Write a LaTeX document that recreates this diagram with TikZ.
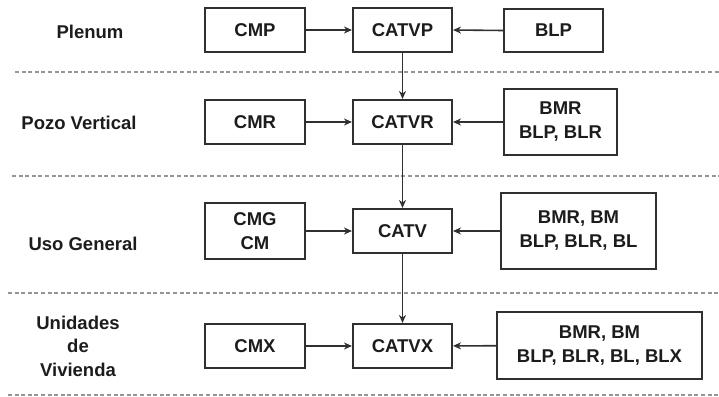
\documentclass[tikz,border=0pt]{standalone}
\usepackage{fontspec}
\setmainfont{Liberation Sans}
\usetikzlibrary{arrows.meta}
\definecolor{boxline}{HTML}{303030}
\definecolor{sepline}{HTML}{959595}
\definecolor{txt}{HTML}{1C1C1C}
\begin{document}
\begin{tikzpicture}[x=1pt,y=-1pt,
  box/.style={draw=boxline,line width=2pt,inner sep=0pt,align=center,text=txt,
    font=\bfseries\fontsize{18.5}{24}\selectfont},
  lbl/.style={inner sep=0pt,align=center,text=txt,font=\bfseries\fontsize{18.5}{23.5}\selectfont},
  sep/.style={draw=sepline,line width=1.9pt,dash pattern=on 4pt off 2.6pt},
  conn/.style={draw=boxline,line width=1.6pt,-{Stealth[length=8pt,width=7pt,inset=2.5pt]}}]
\useasboundingbox (0,0) rectangle (719,396);
% separators
\coordinate (s1a) at (15,72);  \coordinate (s1b) at (719,72);
\coordinate (s2a) at (12,176); \coordinate (s2b) at (719,176);
\coordinate (s3a) at (8,293);  \coordinate (s3b) at (719,293);
\coordinate (s4a) at (8,395);  \coordinate (s4b) at (719,395);
\draw[sep] (s1a) -- (s1b);
\draw[sep] (s2a) -- (s2b);
\draw[sep] (s3a) -- (s3b);
\draw[sep] (s4a) -- (s4b);
% labels
\node[lbl] (l1) at (90,32) {Plenum};
\node[lbl] (l2) at (79,123) {Pozo Vertical};
\node[lbl] (l3) at (83,244) {Uso General};
\node[lbl] (l4) at (78,346) {Unidades\\de\\Vivienda};
% row 1
\node[box,minimum width=100pt,minimum height=44pt] (cmp) at (255,30) {CMP};
\node[box,minimum width=99pt,minimum height=44pt] (catvp) at (402.5,30) {CATVP};
\node[box,minimum width=99pt,minimum height=43pt] (blp) at (553.5,30.5) {BLP};
% row 2
\node[box,minimum width=100pt,minimum height=44pt] (cmr) at (255,122) {CMR};
\node[box,minimum width=99pt,minimum height=44pt] (catvr) at (402.5,122) {CATVR};
\node[box,minimum width=113pt,minimum height=66pt] (bmr) at (560.5,122) {BMR\\BLP, BLR};
% row 3
\node[box,minimum width=100pt,minimum height=56pt] (cmg) at (255,231) {CMG\\CM};
\node[box,minimum width=99pt,minimum height=44pt] (catv) at (402.5,231) {CATV};
\node[box,minimum width=155pt,minimum height=76pt] (bl) at (578.5,231) {BMR, BM\\BLP, BLR, BL};
% row 4
\node[box,minimum width=100pt,minimum height=44pt] (cmx) at (255,346) {CMX};
\node[box,minimum width=99pt,minimum height=44pt] (catvx) at (402.5,346) {CATVX};
\node[box,minimum width=205pt,minimum height=67pt] (blx) at (599.5,345.5) {BMR, BM\\BLP, BLR, BL, BLX};
% connectors
\draw[conn] (cmp) -- (catvp);
\draw[conn] (blp.west) -- (catvp.east);
\draw[conn] (catvp) -- (catvr);
\draw[conn] (cmr) -- (catvr);
\draw[conn] (bmr) -- (catvr);
\draw[conn] (catvr) -- (catv);
\draw[conn] (cmg) -- (catv);
\draw[conn] (bl) -- (catv);
\draw[conn] (catv) -- (catvx);
\draw[conn] (cmx) -- (catvx);
\draw[conn] (blx) -- (catvx);
\end{tikzpicture}
\end{document}
